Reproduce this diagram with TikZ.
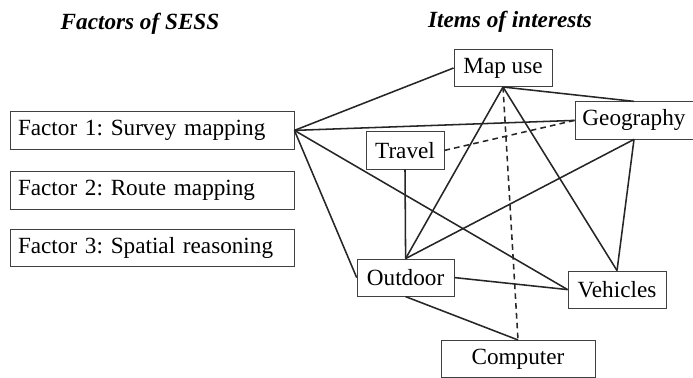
\documentclass[tikz,border=0pt]{standalone}
\usepackage{fontspec}
\setmainfont{Liberation Serif}
\usepackage{tikz}
\usetikzlibrary{positioning}
\frenchspacing

\begin{document}
\begin{tikzpicture}[
  font=\fontsize{16.5}{19}\selectfont,
  box/.style={draw=black!75, line width=0.6pt, rectangle, minimum height=0.93cm, inner sep=0pt},
  factor/.style={box, text width=6.7cm, align=left, inner xsep=0.2cm},
  link/.style={line width=1.1pt, black!85},
  weak/.style={link, dash pattern=on 4pt off 3pt},
  heading/.style={font=\fontsize{16.5}{19}\selectfont\bfseries\itshape}]
  \useasboundingbox (0,0) rectangle (17.325,9.45);
  % Nadpisy
  \node[heading] (hfac) at (3.5,8.85) {Factors of SESS};
  \node[heading] (hint) at (12.75,8.9) {Items of interests};
  % Faktory
  \node[factor] (f1) at (3.8,6.19) {Factor 1: Survey mapping};
  \node[factor] (f2) at (3.8,4.69) {Factor 2: Route mapping};
  \node[factor] (f3) at (3.8,3.26) {Factor 3: Spatial reasoning};
  % Zájmy
  \node[box, minimum width=2.45cm] (map) at (12.575,7.75) {Map use};
  \node[box, minimum width=2.95cm] (geo) at (15.85,6.44) {Geography};
  \node[box, minimum width=1.95cm] (travel) at (10.125,5.69) {Travel};
  \node[box, minimum width=2.425cm] (out) at (10.14,2.51) {Outdoor};
  \node[box, minimum width=2.45cm] (veh) at (15.425,2.21) {Vehicles};
  \node[box, minimum width=3.85cm] (comp) at (12.95,0.475) {Computer};
  % Vazby
  \foreach \t in {map, geo, out, veh} {
    \draw[link] (f1.east) -- (\t.west);
  }
  \draw[link] (map.south) -- (geo.north);
  \draw[link] (map.south) -- (out.north);
  \draw[link] (map.south) -- (veh.north);
  \draw[weak] (map.south) -- (comp.north);
  \draw[link] (geo.south) -- (out.north);
  \draw[link] (geo.south) -- (veh.north);
  \draw[weak] (geo.west) -- (travel.east);
  \draw[link] (travel.south) -- (out.north);
  \draw[link] (out.east) -- (veh.west);
  \draw[link] (out.south) -- (comp.north);
\end{tikzpicture}
\end{document}
